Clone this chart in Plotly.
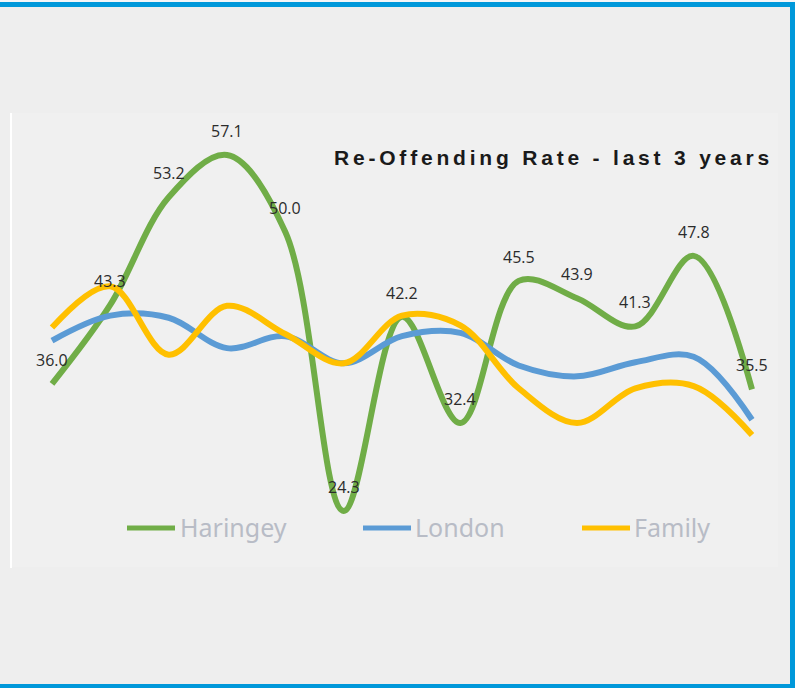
import plotly.graph_objects as go

# ---- data ----
periods = list(range(13))
series_names = ["Haringey", "London", "Family"]
haringey = [36.0, 43.3, 53.2, 57.1, 50.0, 24.3, 42.2, 32.4, 45.5, 43.9, 41.3, 47.8, 35.5]
london = [40.0, 42.3, 42.1, 39.3, 40.4, 37.9, 40.4, 40.7, 37.7, 36.7, 38.0, 38.5, 32.7]
family = [41.2, 45.0, 38.7, 43.2, 40.6, 37.9, 42.3, 41.4, 35.6, 32.4, 35.6, 35.8, 31.3]
title_text = "Re-Offending Rate - last 3 years"

colors = {"Haringey": "#70AD47", "London": "#5B9BD5", "Family": "#FFC000"}
values = {"Haringey": haringey, "London": london, "Family": family}

W, H = 795, 688
fig = go.Figure()
for name in series_names:
    fig.add_trace(go.Scatter(
        x=periods, y=values[name], mode="lines", name=name,
        line=dict(color=colors[name], width=6, shape="spline", smoothing=1.0),
        showlegend=False, hoverinfo="skip"))

annotations = []
# data labels for Haringey
for xi, v in zip(periods, haringey):
    annotations.append(dict(
        x=xi, y=v, xref="x", yref="y", text=f"{v:.1f}", showarrow=False,
        yshift=24, font=dict(family="Open Sans", size=16, color="#2b2b2b")))

def px(x):
    return x / W

def py(y):
    return 1 - y / H

# title
annotations.append(dict(
    x=px(553), y=py(158), xref="paper", yref="paper",
    text=f'<b><span style="letter-spacing:3.8px">{title_text}</span></b>',
    showarrow=False, xanchor="center", yanchor="middle",
    font=dict(family="Liberation Sans", size=21, color="#1a1a1a")))

shapes = [
    # inner chart area (slightly lighter)
    dict(type="rect", xref="paper", yref="paper", x0=px(11), x1=px(778), y0=py(567), y1=py(113),
         fillcolor="#F0F0F0", line=dict(width=0), layer="below"),
    dict(type="line", xref="paper", yref="paper", x0=px(11), x1=px(11), y0=py(568), y1=py(113),
         line=dict(color="#FFFFFF", width=2), layer="below"),
    # frame
    dict(type="rect", xref="paper", yref="paper", x0=0, x1=1, y0=py(2), y1=1,
         fillcolor="#F4F6F8", line=dict(width=0)),
    dict(type="rect", xref="paper", yref="paper", x0=0, x1=1, y0=py(7), y1=py(2),
         fillcolor="#0098DA", line=dict(width=0)),
    dict(type="rect", xref="paper", yref="paper", x0=px(790), x1=px(800), y0=0, y1=py(2),
         fillcolor="#0098DA", line=dict(width=0)),
    dict(type="rect", xref="paper", yref="paper", x0=0, x1=px(800), y0=0, y1=py(684),
         fillcolor="#0098DA", line=dict(width=0)),
]

# legend (manual)
legend_pos = {"Haringey": (127, 175, 178), "London": (363, 411, 413), "Family": (582, 630, 632)}
for name in series_names:
    x0, x1, tx = legend_pos[name]
    shapes.append(dict(type="line", xref="paper", yref="paper", x0=px(x0), x1=px(x1),
                       y0=py(528), y1=py(528), line=dict(color=colors[name], width=5)))
    annotations.append(dict(x=px(tx), y=py(527), xref="paper", yref="paper", text=name,
                            showarrow=False, xanchor="left", yanchor="middle",
                            font=dict(family="Noto Sans", size=25, color="#B8BCC6")))

fig.update_layout(
    width=W, height=H, margin=dict(l=0, r=0, t=0, b=0),
    paper_bgcolor="#EEEEEE", plot_bgcolor="rgba(0,0,0,0)",
    xaxis=dict(range=[-52 / 58.333, 12 + 43 / 58.333], visible=False, domain=[0, 1]),
    yaxis=dict(range=[57.1 - 533 / 10.85, 57.1 + 155 / 10.85], visible=False, domain=[0, 1]),
    annotations=annotations, shapes=shapes,
)

fig.write_html("out.html")
